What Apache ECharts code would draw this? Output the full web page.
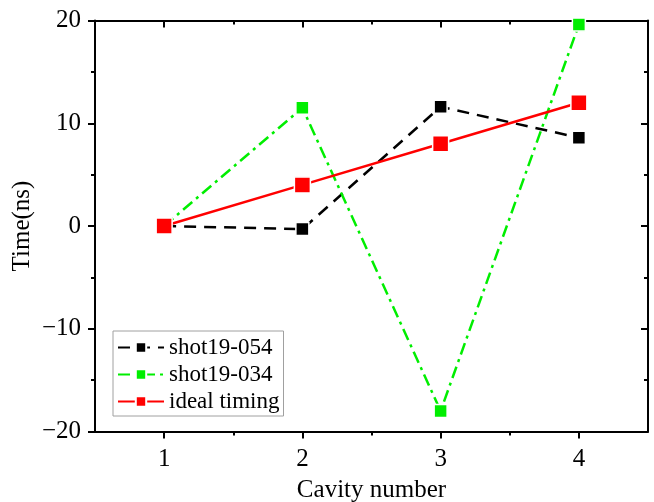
<!DOCTYPE html>
<html>
<head>
<meta charset="utf-8">
<style>
  html, body { margin: 0; padding: 0; background: #fff; }
  #chart { width: 654px; height: 502px; }
</style>
<script src="https://cdn.jsdelivr.net/npm/echarts@6/dist/echarts.min.js"></script>
</head>
<body>
<div id="chart"></div>
<script>
// Cavity timing per shot
const cavities = [1, 2, 3, 4];
const shot054 = [0, -0.3, 11.6, 8.6];
const shot034 = [0, 11.5, -18, 19.6];
const idealTiming = [0, 4, 8, 12];
const yTicks = [-20, -10, 0, 10, 20];
const seriesNames = ['shot19-054', 'shot19-034', 'ideal timing'];

const FONT = 'Liberation Serif';
const halfSteps = cavities.slice(1).map(c => c - 0.5);
const xMin = cavities[0] - 0.5;
const xMax = cavities[cavities.length - 1] + 0.5;
const yMin = yTicks[0];
const yMax = yTicks[yTicks.length - 1];
const yStep = yTicks[1] - yTicks[0];

const axisLine = { show: true, onZero: false, lineStyle: { color: '#000', width: 2 } };
const noLine = { show: false, onZero: false };

function pairs(ys) { return cavities.map((c, i) => [c, ys[i]]); }

const chart = echarts.init(document.getElementById('chart'), null, { renderer: 'canvas' });

chart.setOption({
  animation: false,
  backgroundColor: '#fff',
  grid: { left: 95, right: 6, top: 20.5, bottom: 70.5, containLabel: false, outerBoundsMode: 'none' },
  legend: {
    orient: 'vertical',
    left: 113, top: 331,
    padding: [5, 4, 3, 4],
    itemWidth: 46, itemHeight: 13, itemGap: 4,
    borderColor: '#a0a0a0', borderWidth: 1,
    textStyle: { fontFamily: FONT, fontSize: 23, color: '#000' },
    data: seriesNames
  },
  xAxis: [
    { // bottom: labels + major ticks
      type: 'value', position: 'bottom', min: xMin, max: xMax,
      axisLine: axisLine,
      axisTick: { show: true, inside: false, length: 7, customValues: cavities, lineStyle: { color: '#000', width: 2 } },
      axisLabel: { show: true, customValues: cavities, margin: 15, fontFamily: FONT, fontSize: 25, color: '#000' },
      splitLine: { show: false },
      name: 'Cavity number', nameLocation: 'middle', nameGap: 46, nameMoveOverlap: false,
      nameTextStyle: { fontFamily: FONT, fontSize: 25, color: '#000' }
    },
    { // bottom: minor ticks
      type: 'value', position: 'bottom', min: xMin, max: xMax,
      axisLine: noLine,
      axisTick: { show: true, inside: false, length: 4, customValues: halfSteps, lineStyle: { color: '#000', width: 2 } },
      axisLabel: { show: false }, splitLine: { show: false }
    },
    { // top mirror: major ticks
      type: 'value', position: 'top', min: xMin, max: xMax,
      axisLine: axisLine,
      axisTick: { show: true, inside: true, length: 7, customValues: cavities, lineStyle: { color: '#000', width: 2 } },
      axisLabel: { show: false }, splitLine: { show: false }
    },
    { // top mirror: minor ticks
      type: 'value', position: 'top', min: xMin, max: xMax,
      axisLine: noLine,
      axisTick: { show: true, inside: true, length: 4, customValues: halfSteps, lineStyle: { color: '#000', width: 2 } },
      axisLabel: { show: false }, splitLine: { show: false }
    }
  ],
  yAxis: [
    {
      type: 'value', position: 'left', min: yMin, max: yMax, interval: yStep,
      axisLine: axisLine,
      axisTick: { show: true, inside: false, length: 7, lineStyle: { color: '#000', width: 2 } },
      minorTick: { show: true, splitNumber: 2, length: 4, lineStyle: { color: '#000', width: 2 } },
      axisLabel: {
        show: true, margin: 14, fontFamily: FONT, fontSize: 25, color: '#000',
        formatter: v => String(v).replace('-', '\u2212')
      },
      splitLine: { show: false }, minorSplitLine: { show: false },
      name: 'Time(ns)', nameLocation: 'middle', nameGap: 60, nameRotate: 90, nameMoveOverlap: false,
      nameTextStyle: { fontFamily: FONT, fontSize: 25, color: '#000' }
    },
    {
      type: 'value', position: 'right', min: yMin, max: yMax, interval: yStep,
      axisLine: axisLine,
      axisTick: { show: true, inside: true, length: 7, lineStyle: { color: '#000', width: 2 } },
      minorTick: { show: true, splitNumber: 2, length: 4, lineStyle: { color: '#000', width: 2 } },
      axisLabel: { show: false },
      splitLine: { show: false }, minorSplitLine: { show: false }
    }
  ],
  series: [
    {
      name: seriesNames[0], type: 'line', xAxisIndex: 0, yAxisIndex: 0,
      data: pairs(shot054),
      symbol: 'rect', symbolSize: 13,
      itemStyle: { color: '#000', borderColor: '#fff', borderWidth: 1.5 },
      lineStyle: { color: '#000', width: 2.5, type: [12, 8] },
      clip: false
    },
    {
      name: seriesNames[1], type: 'line', xAxisIndex: 0, yAxisIndex: 0,
      data: pairs(shot034),
      symbol: 'rect', symbolSize: 13,
      itemStyle: { color: '#00ee00', borderColor: '#fff', borderWidth: 1.5 },
      lineStyle: { color: '#00ee00', width: 2.5, type: [12, 5, 3, 5] },
      clip: false
    },
    {
      name: seriesNames[2], type: 'line', xAxisIndex: 0, yAxisIndex: 0,
      data: pairs(idealTiming),
      symbol: 'rect', symbolSize: 16,
      itemStyle: { color: '#ff0000', borderColor: '#fff', borderWidth: 1.5 },
      lineStyle: { color: '#ff0000', width: 2.5 },
      clip: false
    }
  ]
});
</script>
</body>
</html>
